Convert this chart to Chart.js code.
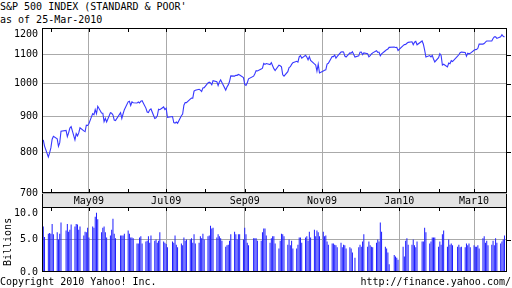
<!DOCTYPE html>
<html>
<head>
<meta charset="utf-8">
<script src="https://cdn.jsdelivr.net/npm/chart.js@4.4.1/dist/chart.umd.min.js"></script>
<style>
  body { margin: 0; background: #fff; }
  #wrap { position: relative; width: 512px; height: 288px; overflow: hidden; font-family: "DejaVu Sans Mono", monospace; font-size: 10px; color: #000; }
  .txt { position: absolute; white-space: nowrap; line-height: 12px; }
  canvas { position: absolute; left: 0; }
</style>
</head>
<body>
<div id="wrap">
  <div class="txt" style="left:0;top:1px">S&amp;P 500 INDEX (STANDARD &amp; POOR'</div>
  <div class="txt" style="left:0;top:14px">as of 25-Mar-2010</div>
  <canvas id="price" width="512" height="207" style="top:0"></canvas>
  <canvas id="volume" width="512" height="81" style="top:207px"></canvas>
  <div class="txt" style="left:-16px;top:236px;width:48px;text-align:center;transform:rotate(-90deg)">Billions</div>
  <div class="txt" style="left:0;top:276px">Copyright 2010 Yahoo! Inc.</div>
  <div class="txt" style="right:1px;top:276px">http://finance.yahoo.com/</div>
</div>
<script>
// trading days, 26-Mar-2009 .. 25-Mar-2010
var dates = [
  '2009-03-26','2009-03-27','2009-03-30','2009-03-31',
  '2009-04-01','2009-04-02','2009-04-03','2009-04-06','2009-04-07','2009-04-08','2009-04-09','2009-04-13','2009-04-14','2009-04-15','2009-04-16','2009-04-17','2009-04-20','2009-04-21','2009-04-22','2009-04-23','2009-04-24','2009-04-27','2009-04-28','2009-04-29','2009-04-30',
  '2009-05-01','2009-05-04','2009-05-05','2009-05-06','2009-05-07','2009-05-08','2009-05-11','2009-05-12','2009-05-13','2009-05-14','2009-05-15','2009-05-18','2009-05-19','2009-05-20','2009-05-21','2009-05-22','2009-05-26','2009-05-27','2009-05-28','2009-05-29',
  '2009-06-01','2009-06-02','2009-06-03','2009-06-04','2009-06-05','2009-06-08','2009-06-09','2009-06-10','2009-06-11','2009-06-12','2009-06-15','2009-06-16','2009-06-17','2009-06-18','2009-06-19','2009-06-22','2009-06-23','2009-06-24','2009-06-25','2009-06-26','2009-06-29','2009-06-30',
  '2009-07-01','2009-07-02','2009-07-06','2009-07-07','2009-07-08','2009-07-09','2009-07-10','2009-07-13','2009-07-14','2009-07-15','2009-07-16','2009-07-17','2009-07-20','2009-07-21','2009-07-22','2009-07-23','2009-07-24','2009-07-27','2009-07-28','2009-07-29','2009-07-30','2009-07-31',
  '2009-08-03','2009-08-04','2009-08-05','2009-08-06','2009-08-07','2009-08-10','2009-08-11','2009-08-12','2009-08-13','2009-08-14','2009-08-17','2009-08-18','2009-08-19','2009-08-20','2009-08-21','2009-08-24','2009-08-25','2009-08-26','2009-08-27','2009-08-28','2009-08-31',
  '2009-09-01','2009-09-02','2009-09-03','2009-09-04','2009-09-08','2009-09-09','2009-09-10','2009-09-11','2009-09-14','2009-09-15','2009-09-16','2009-09-17','2009-09-18','2009-09-21','2009-09-22','2009-09-23','2009-09-24','2009-09-25','2009-09-28','2009-09-29','2009-09-30',
  '2009-10-01','2009-10-02','2009-10-05','2009-10-06','2009-10-07','2009-10-08','2009-10-09','2009-10-12','2009-10-13','2009-10-14','2009-10-15','2009-10-16','2009-10-19','2009-10-20','2009-10-21','2009-10-22','2009-10-23','2009-10-26','2009-10-27','2009-10-28','2009-10-29','2009-10-30',
  '2009-11-02','2009-11-03','2009-11-04','2009-11-05','2009-11-06','2009-11-09','2009-11-10','2009-11-11','2009-11-12','2009-11-13','2009-11-16','2009-11-17','2009-11-18','2009-11-19','2009-11-20','2009-11-23','2009-11-24','2009-11-25','2009-11-27','2009-11-30',
  '2009-12-01','2009-12-02','2009-12-03','2009-12-04','2009-12-07','2009-12-08','2009-12-09','2009-12-10','2009-12-11','2009-12-14','2009-12-15','2009-12-16','2009-12-17','2009-12-18','2009-12-21','2009-12-22','2009-12-23','2009-12-24','2009-12-28','2009-12-29','2009-12-30','2009-12-31',
  '2010-01-04','2010-01-05','2010-01-06','2010-01-07','2010-01-08','2010-01-11','2010-01-12','2010-01-13','2010-01-14','2010-01-15','2010-01-19','2010-01-20','2010-01-21','2010-01-22','2010-01-25','2010-01-26','2010-01-27','2010-01-28','2010-01-29',
  '2010-02-01','2010-02-02','2010-02-03','2010-02-04','2010-02-05','2010-02-08','2010-02-09','2010-02-10','2010-02-11','2010-02-12','2010-02-16','2010-02-17','2010-02-18','2010-02-19','2010-02-22','2010-02-23','2010-02-24','2010-02-25','2010-02-26',
  '2010-03-01','2010-03-02','2010-03-03','2010-03-04','2010-03-05','2010-03-08','2010-03-09','2010-03-10','2010-03-11','2010-03-12','2010-03-15','2010-03-16','2010-03-17','2010-03-18','2010-03-19','2010-03-22','2010-03-23','2010-03-24','2010-03-25'
];

var closes = [
  832.9, 815.9, 787.5, 797.9,
  811.1, 834.4, 842.5, 835.5, 815.6, 825.2, 856.6, 858.7, 841.5, 852.1, 865.3, 869.6, 832.4, 850.1, 843.6, 851.9, 866.2, 857.5, 855.2, 873.6, 872.8,
  877.5, 907.2, 903.8, 919.5, 907.4, 929.2, 909.2, 908.4, 883.9, 893.1, 882.9, 909.7, 908.1, 903.5, 888.3, 887.0, 910.3, 893.1, 906.8, 919.1,
  942.9, 944.7, 931.8, 942.5, 940.1, 939.1, 942.4, 939.2, 944.9, 946.2, 923.7, 912.0, 910.7, 918.4, 921.2, 893.0, 895.1, 900.9, 920.3, 918.9, 927.2, 919.3,
  923.3, 896.4, 898.7, 881.0, 879.6, 882.7, 879.1, 901.1, 905.8, 932.7, 940.7, 940.4, 951.1, 954.6, 954.1, 976.3, 979.3, 982.2, 979.6, 975.2, 986.8, 987.5,
  1002.6, 1005.7, 1002.7, 997.1, 1010.5, 1007.1, 994.4, 1005.8, 1012.7, 1004.1, 979.7, 989.7, 996.5, 1007.4, 1026.1, 1025.6, 1028.0, 1028.1, 1031.0, 1028.9, 1020.6,
  998.0, 994.8, 1003.2, 1016.4, 1025.4, 1033.4, 1044.1, 1042.7, 1049.3, 1052.6, 1068.8, 1065.5, 1068.3, 1064.7, 1071.7, 1060.9, 1050.8, 1044.4, 1063.0, 1060.6, 1057.1,
  1029.9, 1025.2, 1040.5, 1054.7, 1057.6, 1065.5, 1071.5, 1076.2, 1073.2, 1092.0, 1096.6, 1087.7, 1097.9, 1091.1, 1081.4, 1092.9, 1079.6, 1067.0, 1063.4, 1042.6, 1066.1, 1036.2,
  1042.9, 1045.4, 1046.5, 1066.6, 1069.3, 1093.1, 1093.0, 1098.5, 1087.2, 1093.5, 1109.3, 1110.3, 1109.8, 1094.9, 1091.4, 1106.2, 1105.7, 1110.6, 1091.5, 1095.6,
  1108.9, 1109.2, 1099.9, 1106.0, 1103.3, 1091.9, 1096.0, 1102.4, 1106.4, 1114.1, 1107.9, 1109.2, 1096.1, 1102.5, 1114.1, 1118.0, 1120.6, 1126.5, 1127.8, 1126.2, 1126.4, 1115.1,
  1133.0, 1136.5, 1137.1, 1141.7, 1145.0, 1147.0, 1136.2, 1145.7, 1148.5, 1136.0, 1150.2, 1138.0, 1116.5, 1091.8, 1096.8, 1092.2, 1097.5, 1084.5, 1073.9,
  1089.2, 1103.3, 1097.3, 1063.1, 1066.2, 1056.7, 1070.5, 1068.1, 1078.5, 1075.5, 1094.9, 1099.5, 1106.8, 1109.2, 1108.0, 1094.6, 1105.2, 1102.9, 1104.5,
  1115.7, 1118.3, 1118.8, 1123.0, 1138.7, 1138.5, 1140.5, 1145.6, 1150.2, 1150.0, 1150.5, 1159.5, 1166.2, 1165.8, 1159.9, 1165.8, 1174.2, 1167.7, 1165.7
];

// volume in billions
var volumes = [
  7.0, 5.4, 5.9, 6.0, 5.9, 7.4, 5.8, 6.1, 5.0, 5.9, 7.6,
  6.4, 7.4, 6.2, 6.5, 7.3, 7.0, 7.4, 7.3, 6.5, 7.0,
  5.6, 6.2, 6.1, 6.8, 5.3, 7.0, 6.8, 8.5, 9.1, 8.1,
  6.1, 6.8, 7.0, 6.1, 5.3, 5.6, 6.5, 8.2, 5.9, 5.2,
  5.6, 5.6, 5.6, 5.9, 6.4, 5.9, 5.3, 5.3, 5.2, 4.4,
  4.4, 5.3, 5.5, 4.4, 4.7, 4.8, 5.5, 4.5, 5.6, 4.8, 5.0, 4.5, 4.8, 6.1, 4.7, 4.5,
  4.3, 3.8, 4.7, 4.5, 5.6, 4.2, 3.8, 4.4, 4.1, 5.3, 4.8, 5.0, 5.0, 5.2, 4.5, 5.8, 4.4, 4.5, 5.5, 5.2, 5.9, 5.0,
  5.5, 5.6, 7.1, 6.7, 6.8, 5.3, 5.8, 5.5, 5.2, 4.8, 3.9, 4.1, 4.2, 4.8,
  5.8, 6.2, 5.8, 5.0, 5.8, 5.8, 5.0,
  6.8, 5.8, 4.5, 4.1, 5.2, 5.2, 5.2, 4.8, 4.8, 6.1, 6.7, 6.7, 5.6, 4.5,
  5.2, 5.5, 5.5, 4.4, 3.6, 4.8, 5.9, 5.8, 5.5, 4.2,
  5.0, 4.1, 4.8, 3.6, 3.6, 4.2, 5.3, 5.3, 4.5, 5.3,
  5.5, 4.8, 6.2, 5.3, 6.5, 5.5, 6.4, 6.1, 5.5, 6.2, 5.5,
  5.6, 4.7, 4.2, 4.4, 4.4, 4.2, 4.1, 3.8, 4.5, 3.8, 4.2, 4.1, 3.6, 3.8, 3.6, 3.0, 2.2, 3.8,
  4.2, 3.9, 4.7, 5.8, 3.9, 4.7, 4.1, 3.9, 3.8, 4.5, 5.0, 4.7, 7.6, 6.2, 3.9, 3.6, 3.0, 1.2, 2.6, 2.4, 2.2, 1.9,
  3.9, 2.4, 4.8, 5.2, 4.2, 4.2, 5.0, 4.1, 3.8, 4.7,
  4.7, 4.7, 6.8, 6.1, 4.4, 4.7, 5.3, 5.3, 5.3,
  3.9, 4.7, 4.2, 5.8, 6.4, 3.9, 5.0, 4.2, 4.4, 4.1,
  3.9, 4.2, 3.8, 3.9, 3.8, 4.4, 4.1, 4.4, 3.8,
  4.1, 3.9, 3.9, 4.1, 3.6, 5.2, 5.5, 4.5, 4.8, 4.1, 4.2, 4.8, 4.1, 5.2, 4.5, 4.4, 4.7, 5.0, 5.6
];

var monthTicks = ['2009-04-01','2009-05-01','2009-06-01','2009-07-01','2009-08-01','2009-09-01','2009-10-01','2009-11-01','2009-12-01','2010-01-01','2010-02-01','2010-03-01'];
var monthLabels = ['', 'May09', '', 'Jul09', '', 'Sep09', '', 'Nov09', '', 'Jan10', '', 'Mar10'];
var priceTicks = [700, 800, 900, 1000, 1100, 1200];
var volumeTicks = [0, 5, 10];

var mono = { family: 'DejaVu Sans Mono', size: 10 };
var GRID = '#aaaaaa';
var NONE = 'rgba(0,0,0,0)';

function dayOf(s) {
    return (Date.parse(s) - Date.parse('2009-03-25')) / 864e5;
}

// black frame, month ticks, right side ticks, date band
var framePlugin = {
    id: 'frame',
    beforeDraw: function (chart, args, opts) {
        if (!opts.band) return;
        var a = chart.chartArea, ctx = chart.ctx;
        ctx.save();
        ctx.fillStyle = '#e4e4e4';
        ctx.fillRect(a.left, a.bottom, a.right - a.left, chart.height - a.bottom);
        ctx.strokeStyle = '#000';
        ctx.beginPath();
        ctx.moveTo(a.left + 0.5, a.bottom); ctx.lineTo(a.left + 0.5, chart.height);
        ctx.moveTo(a.right - 0.5, a.bottom); ctx.lineTo(a.right - 0.5, chart.height);
        ctx.stroke();
        ctx.restore();
    },
    afterDraw: function (chart, args, opts) {
        var a = chart.chartArea, ctx = chart.ctx;
        var sx = chart.scales.x, sy = chart.scales.y;
        ctx.save();
        ctx.strokeStyle = '#000';
        ctx.lineWidth = 1;
        ctx.strokeRect(a.left + 0.5, a.top + 0.5, a.right - a.left - 1, a.bottom - a.top - 1);
        ctx.beginPath();
        monthTicks.forEach(function (d) {
            var px = Math.round(sx.getPixelForValue(dayOf(d))) + 0.5;
            ctx.moveTo(px, a.top); ctx.lineTo(px, a.top + 4);
            if (opts.bottomTicks) { ctx.moveTo(px, a.bottom); ctx.lineTo(px, a.bottom - 4); }
        });
        sy.ticks.forEach(function (t) {
            var py = Math.round(sy.getPixelForValue(t.value)) + 0.5;
            if (py > a.top + 2 && py < a.bottom - 2) { ctx.moveTo(a.right, py); ctx.lineTo(a.right + 4, py); }
        });
        ctx.stroke();
        ctx.restore();
    }
};

var xScale = function (h, showLabels) {
    return {
        type: 'linear', min: 0, max: 367, offset: false,
        afterBuildTicks: function (s) { s.ticks = monthTicks.map(function (d) { return { value: dayOf(d) }; }); },
        afterFit: function (s) { s.height = h; s.paddingLeft = 0; s.paddingRight = 0; },
        ticks: {
            display: showLabels, autoSkip: false, maxRotation: 0, padding: 2, color: '#000', font: mono,
            callback: function (v, i) { return monthLabels[i]; }
        },
        grid: { offset: false, drawTicks: false, color: function (c) { return monthLabels[c.index] ? GRID : NONE; } },
        border: { display: false }
    };
};

new Chart(document.getElementById('price'), {
    type: 'line',
    data: {
        datasets: [{
            data: dates.map(function (d, i) { return { x: dayOf(d), y: closes[i] }; }),
            borderColor: '#3838ff',
            borderWidth: 1.1,
            pointRadius: 0,
            tension: 0
        }]
    },
    options: {
        responsive: false,
        animation: false,
        layout: { padding: { top: 28, right: 5, left: 0, bottom: 0 } },
        plugins: { legend: { display: false }, tooltip: { enabled: false }, frame: { band: true, bottomTicks: true } },
        scales: {
            x: xScale(14, true),
            y: {
                type: 'logarithmic', min: 700, max: 1200,
                afterBuildTicks: function (s) { s.ticks = priceTicks.map(function (v) { return { value: v }; }); },
                afterFit: function (s) { s.width = 42; s.paddingTop = 0; s.paddingBottom = 0; },
                ticks: {
                    padding: 4, color: '#000', font: mono,
                    callback: function (v) { return v === 1200 ? ['', String(v)] : String(v); }
                },
                grid: { drawTicks: false, color: GRID },
                border: { display: false }
            }
        }
    },
    plugins: [framePlugin]
});

new Chart(document.getElementById('volume'), {
    type: 'bar',
    data: {
        datasets: [{
            data: dates.map(function (d, i) { return { x: dayOf(d), y: volumes[i] }; }),
            backgroundColor: '#1e1eff',
            borderWidth: 0,
            inflateAmount: 0,
            barThickness: 1
        }]
    },
    options: {
        responsive: false,
        animation: false,
        layout: { padding: { top: 0, right: 5, left: 0, bottom: 0 } },
        plugins: { legend: { display: false }, tooltip: { enabled: false }, frame: { band: false, bottomTicks: false } },
        scales: {
            x: xScale(16, false),
            y: {
                type: 'linear', min: 0, max: 10,
                afterBuildTicks: function (s) { s.ticks = volumeTicks.map(function (v) { return { value: v }; }); },
                afterFit: function (s) { s.width = 42; s.paddingTop = 0; s.paddingBottom = 0; },
                ticks: {
                    padding: 4, color: '#000', font: mono,
                    callback: function (v) { return v === 10 ? ['', v.toFixed(1)] : v.toFixed(1); }
                },
                grid: { drawTicks: false, color: function (c) { return c.tick && c.tick.value === 5 ? GRID : NONE; } },
                border: { display: false }
            }
        }
    },
    plugins: [framePlugin]
});
</script>
</body>
</html>
